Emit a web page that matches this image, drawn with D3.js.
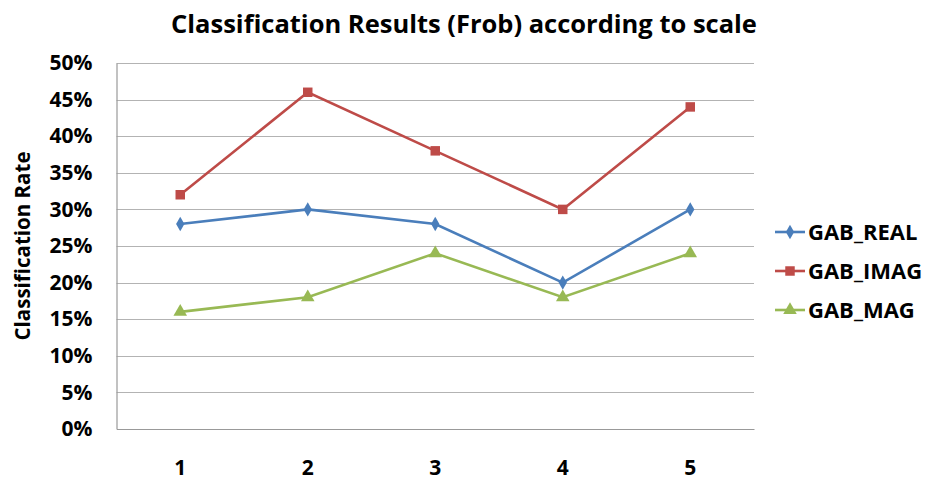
<!DOCTYPE html>
<html>
<head>
<meta charset="utf-8">
<script src="https://cdn.jsdelivr.net/npm/d3@7"></script>
<style>
  body { margin: 0; background: #fff; }
  text { font-family: "Open Sans", Lato, sans-serif; font-weight: bold; fill: #000; }
</style>
</head>
<body>
<svg id="chart" width="932" height="484"></svg>
<script>
// data
var categories = ["1", "2", "3", "4", "5"];
var seriesNames = ["GAB_REAL", "GAB_IMAG", "GAB_MAG"];
var gabReal = [0.28, 0.30, 0.28, 0.20, 0.30];
var gabImag = [0.32, 0.46, 0.38, 0.30, 0.44];
var gabMag = [0.16, 0.18, 0.24, 0.18, 0.24];
var yTicks = [0, 0.05, 0.10, 0.15, 0.20, 0.25, 0.30, 0.35, 0.40, 0.45, 0.50];

var colors = ["#4a7ebb", "#be4b48", "#98b954"];
var symbols = [d3.symbolDiamond, d3.symbolSquare, d3.symbolTriangle];
var symSizes = [60, 90, 80];

var margin = {top: 63, left: 116.5, right: 178, bottom: 55};
var width = 932, height = 484;

var svg = d3.select("#chart");

var x = d3.scaleBand()
  .domain(categories)
  .range([margin.left, width - margin.right]);

var y = d3.scaleLinear()
  .domain([0, 0.5])
  .range([height - margin.bottom, margin.top]);

// grid lines
svg.append("g")
  .selectAll("line")
  .data(yTicks.slice(1))
  .enter().append("line")
  .attr("x1", x.range()[0])
  .attr("x2", x.range()[1])
  .attr("y1", function (d) { return Math.round(y(d)) + 0.5; })
  .attr("y2", function (d) { return Math.round(y(d)) + 0.5; })
  .style("stroke", "#b3b3b3")
  .style("stroke-width", 1.2);

// axes
var yAxis = d3.axisLeft(y)
  .tickValues(yTicks)
  .tickFormat(d3.format(".0%"))
  .tickSize(0)
  .tickPadding(24);

var gy = svg.append("g")
  .attr("transform", "translate(" + x.range()[0] + ",0)")
  .call(yAxis);
gy.select(".domain").style("stroke", "#999").style("stroke-width", 1.2);
gy.selectAll("text").style("font-size", "21px");

var xAxis = d3.axisBottom(x).tickSize(0).tickPadding(31);
var gx = svg.append("g")
  .attr("transform", "translate(0," + y(0) + ")")
  .call(xAxis);
gx.select(".domain").style("stroke", "#999").style("stroke-width", 1.2);
gx.selectAll("text").style("font-size", "21px");

// series
var series = [gabReal, gabImag, gabMag];
var line = d3.line()
  .x(function (d, i) { return x(categories[i]) + x.bandwidth() / 2; })
  .y(function (d) { return y(d); });

series.forEach(function (vals, k) {
  svg.append("path")
    .datum(vals)
    .attr("d", line)
    .style("fill", "none")
    .style("stroke", colors[k])
    .style("stroke-width", 2.6);

  svg.append("g")
    .selectAll("path")
    .data(vals)
    .enter().append("path")
    .attr("transform", function (d, i) {
      return "translate(" + (x(categories[i]) + x.bandwidth() / 2) + "," + y(d) + ")";
    })
    .attr("d", d3.symbol().type(symbols[k]).size(symSizes[k]))
    .style("fill", colors[k]);
});

// legend
var legend = svg.append("g")
  .selectAll("g")
  .data(seriesNames)
  .enter().append("g")
  .attr("transform", function (d, i) { return "translate(775," + (232 + i * 39) + ")"; });

legend.append("line")
  .attr("x1", 0).attr("x2", 30)
  .style("stroke", function (d, i) { return colors[i]; })
  .style("stroke-width", 2.6);

legend.append("path")
  .attr("transform", "translate(15,0)")
  .attr("d", function (d, i) { return d3.symbol().type(symbols[i]).size(symSizes[i])(); })
  .style("fill", function (d, i) { return colors[i]; });

legend.append("text")
  .attr("x", 33)
  .attr("dy", "0.36em")
  .style("font-size", "22px")
  .text(function (d) { return d; });

// titles
svg.append("text")
  .attr("x", 464)
  .attr("y", 33)
  .attr("text-anchor", "middle")
  .style("font-size", "25.5px")
  .text("Classification Results (Frob) according to scale");

svg.append("text")
  .attr("transform", "translate(30,246) rotate(-90)")
  .attr("text-anchor", "middle")
  .style("font-size", "20.5px")
  .text("Classification Rate");
</script>
</body>
</html>
